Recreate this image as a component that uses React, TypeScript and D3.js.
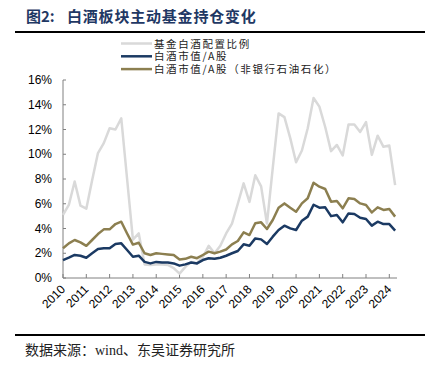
import React from "react";
import * as d3 from "d3";

const width = 434;
const height = 366;
const margin = { top: 80, right: 37, bottom: 88, left: 63 };

// quarterly points, 2010Q1 .. 2024Q2
const startYear = 2010;
const years = [2010, 2011, 2012, 2013, 2014, 2015, 2016, 2017, 2018, 2019, 2020, 2021, 2022, 2023, 2024];
const yTicks = [0, 0.02, 0.04, 0.06, 0.08, 0.1, 0.12, 0.14, 0.16];

const seriesNames = ["基金白酒配置比例", "白酒市值/A股", "白酒市值/A股（非银行石油石化）"];
const seriesColors = ["#d9d9d9", "#1b3a63", "#8c7f50"];

// values in %
const fundRatio = [
  5.1, 5.9, 7.8, 5.85, 5.6, 7.9, 10.1, 10.9, 12.1, 12.0, 12.9, 8.0, 3.1, 3.6, 1.1,
  1.05, 1.1, 1.1, 1.05, 0.8, 0.35, 0.9, 1.3, 1.2, 1.7, 2.6, 2.0, 2.6, 3.6, 4.4,
  6.0, 7.65, 6.15, 8.3, 7.4, 4.4, 8.9, 13.3, 13.0, 11.3, 9.35, 10.3, 12.1, 14.55,
  13.85, 12.2, 10.25, 10.75, 9.9, 12.4, 12.4, 11.8, 12.6, 9.95, 11.5, 10.6, 10.7, 7.5,
];
const mktShare = [
  1.45, 1.64, 1.86, 1.8, 1.64, 2.0, 2.34, 2.4, 2.4, 2.75, 2.8, 2.26, 1.72, 1.8, 1.3,
  1.18, 1.3, 1.25, 1.25, 1.18, 1.0, 1.1, 1.25, 1.18, 1.45, 1.6, 1.55, 1.64, 1.8, 2.0,
  2.18, 2.72, 2.61, 3.2, 3.12, 2.75, 3.34, 3.88, 4.23, 4.01, 3.88, 4.63, 4.96, 5.92,
  5.68, 5.71, 5.0, 5.09, 4.5, 5.22, 5.17, 4.87, 4.77, 4.23, 4.55, 4.36, 4.36, 3.83,
];
const mktShareExFin = [
  2.4, 2.8, 3.07, 2.88, 2.6, 3.07, 3.55, 3.93, 3.93, 4.36, 4.55, 3.6, 2.7, 2.85, 2.0,
  1.86, 2.0, 1.95, 1.9, 1.86, 1.5, 1.55, 1.72, 1.6, 1.86, 2.13, 2.0, 2.13, 2.3, 2.72,
  2.99, 3.69, 3.47, 4.42, 4.5, 3.96, 4.69, 5.68, 6.03, 5.68, 5.36, 6.03, 6.44, 7.7,
  7.38, 7.19, 6.17, 6.22, 5.63, 6.44, 6.38, 6.03, 5.9, 5.3, 5.71, 5.5, 5.58, 4.96,
];

const cjk = "'Noto Sans CJK SC', sans-serif";
const latin = "'Liberation Sans', Arial, sans-serif";

const App = () => {
  const x = d3
    .scaleLinear()
    .domain([2010, 2024.33])
    .range([margin.left, width - margin.right]);
  const y = d3
    .scaleLinear()
    .domain([0, 0.16])
    .range([height - margin.bottom, margin.top]);

  const line = d3
    .line<number>()
    .x((d, i) => x(startYear + i * 0.25))
    .y((d) => y(d / 100));

  const all = [fundRatio, mktShare, mktShareExFin];
  const axisColor = "#808080";
  const y0 = y(0);

  return (
    <svg
      width={width}
      height={height}
      style={{ position: "absolute", left: 0, top: 0, background: "#fff" }}
    >
      {/* title */}
      <text y={22} fill="#1f3864" fontSize={15} fontWeight="bold" fontFamily={cjk}>
        <tspan x={26}>图2:</tspan>
        <tspan x={67} letterSpacing={0.8}>白酒板块主动基金持仓变化</tspan>
      </text>
      <line x1={15} x2={425} y1={32} y2={32} stroke="#000" strokeWidth={2} />

      {/* legend */}
      {seriesNames.map((n, i) => (
        <g key={n} transform={`translate(0, ${43.5 + i * 12.8})`}>
          <line x1={121} x2={152} y1={0} y2={0} stroke={seriesColors[i]} strokeWidth={2.5} />
          <text x={154} y={4} fontSize={10.5} letterSpacing={1.6} fill="#222" fontFamily={cjk}>
            {n}
          </text>
        </g>
      ))}

      {/* axes */}
      <line x1={x(2010)} x2={x(2010)} y1={y(0.16)} y2={y0} stroke={axisColor} />
      <line x1={x(2010)} x2={x.range()[1]} y1={y0} y2={y0} stroke={axisColor} />
      {yTicks.map((t) => (
        <g key={t}>
          <line x1={x(2010)} x2={x(2010) + 3} y1={y(t)} y2={y(t)} stroke={axisColor} />
          <text
            x={52}
            y={y(t)}
            dy="0.35em"
            textAnchor="end"
            fontSize={12}
            fill="#000"
            fontFamily={latin}
          >
            {d3.format(".0%")(t)}
          </text>
        </g>
      ))}
      {years.map((yr) => (
        <g key={yr}>
          <line x1={x(yr)} x2={x(yr)} y1={y0} y2={y0 - 4} stroke={axisColor} />
          <text
            transform={`translate(${x(yr) + 3}, ${y0 + 12}) rotate(-45)`}
            textAnchor="end"
            fontSize={12}
            fill="#000"
            fontFamily={latin}
          >
            {yr}
          </text>
        </g>
      ))}

      {/* series */}
      {all.map((s, i) => (
        <path
          key={i}
          d={line(s) || ""}
          fill="none"
          stroke={seriesColors[i]}
          strokeWidth={2.5}
          strokeLinejoin="round"
        />
      ))}

      {/* source */}
      <line x1={15} x2={425} y1={335} y2={335} stroke="#000" strokeWidth={2} />
      <text x={25} y={355} fontSize={14} fill="#222" fontFamily={cjk}>
        数据来源：
        <tspan fontFamily="'Liberation Serif', serif">wind</tspan>
        、东吴证券研究所
      </text>
    </svg>
  );
};

export default App;
